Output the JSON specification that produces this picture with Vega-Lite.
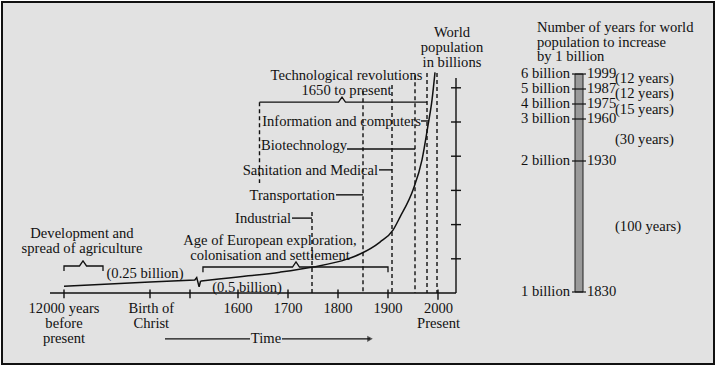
{
  "$schema": "https://vega.github.io/schema/vega-lite/v6.json",
  "width": 718,
  "height": 368,
  "autosize": {"type": "fit", "contains": "padding"},
  "padding": {"left": 2, "top": 2, "right": 4, "bottom": 4},
  "background": "white",
  "config": {
    "view": {"stroke": "#111111", "strokeWidth": 2, "fill": "#e2e2e2"},
    "text": {"font": "Liberation Serif", "fontSize": 14.6, "color": "#111111", "baseline": "middle", "lineBreak": "\n", "lineHeight": 14.8}
  },
  "datasets": {
    "curve": [
      {"i": 1, "year": -10000, "pop": 0.2},
      {"i": 2, "year": 0, "pop": 0.32},
      {"i": 3, "year": 1510, "pop": 0.38},
      {"i": 4, "year": 1514, "pop": 0.45},
      {"i": 5, "year": 1519, "pop": 0.18},
      {"i": 6, "year": 1522, "pop": 0.35}
    ],
    "curve2": [
      {"year": 1522, "pop": 0.35},
      {"year": 1560, "pop": 0.41},
      {"year": 1600, "pop": 0.47},
      {"year": 1684, "pop": 0.61},
      {"year": 1750, "pop": 0.76},
      {"year": 1818, "pop": 0.99},
      {"year": 1844, "pop": 1.14},
      {"year": 1884, "pop": 1.49},
      {"year": 1910, "pop": 1.84},
      {"year": 1924, "pop": 2.22},
      {"year": 1950, "pop": 3.01},
      {"year": 1968, "pop": 3.89},
      {"year": 1980, "pop": 4.9},
      {"year": 1988, "pop": 5.64},
      {"year": 1994, "pop": 6.45}
    ],
    "dashes": [
      {"year": 1643, "pop": 5.58, "pop2": 3.22},
      {"year": 1748, "pop": 2.37, "pop2": 0},
      {"year": 1850, "pop": 5.9, "pop2": 0},
      {"year": 1908, "pop": 6.08, "pop2": 0},
      {"year": 1954, "pop": 6.37, "pop2": 0},
      {"year": 1978, "pop": 6.43, "pop2": 0},
      {"year": 1998, "pop": 6.43, "pop2": 0}
    ],
    "segments": [
      {"year": -11630, "year2": 2036, "pop": 0, "pop2": 0},
      {"year": 2036, "year2": 2036, "pop": 0, "pop2": 6.29},
      {"year": 2026, "year2": 2046, "pop": 1, "pop2": 1},
      {"year": 2026, "year2": 2046, "pop": 2, "pop2": 2},
      {"year": 2026, "year2": 2046, "pop": 3, "pop2": 3},
      {"year": 2026, "year2": 2046, "pop": 4, "pop2": 4},
      {"year": 2026, "year2": 2046, "pop": 5, "pop2": 5},
      {"year": 2026, "year2": 2046, "pop": 6, "pop2": 6},
      {"year": -10000, "year2": -10000, "pop": -0.15, "pop2": 0.1},
      {"year": 0, "year2": 0, "pop": -0.15, "pop2": 0.1},
      {"year": 1500, "year2": 1500, "pop": -0.15, "pop2": 0.1},
      {"year": 1600, "year2": 1600, "pop": -0.15, "pop2": 0.1},
      {"year": 1700, "year2": 1700, "pop": -0.15, "pop2": 0.1},
      {"year": 1800, "year2": 1800, "pop": -0.15, "pop2": 0.1},
      {"year": 1900, "year2": 1900, "pop": -0.15, "pop2": 0.1},
      {"year": 2000, "year2": 2000, "pop": -0.2, "pop2": 0.1},
      {"year": 1708, "year2": 1748, "pop": 2.19, "pop2": 2.19},
      {"year": 1796, "year2": 1850, "pop": 2.87, "pop2": 2.87},
      {"year": 1882, "year2": 1908, "pop": 3.6, "pop2": 3.6},
      {"year": 1818, "year2": 1954, "pop": 4.21, "pop2": 4.21},
      {"year": 1966, "year2": 1982, "pop": 5.03, "pop2": 5.03},
      {"year": 562, "year2": 1624, "pop": -1.34, "pop2": -1.34},
      {"year": 1688, "year2": 1864, "pop": -1.34, "pop2": -1.34}
    ],
    "brackets": [
      {"id": "tech", "i": 1, "year": 1643, "pop": 5.58},
      {"id": "tech", "i": 2, "year": 1801, "pop": 5.58},
      {"id": "tech", "i": 3, "year": 1808, "pop": 5.73},
      {"id": "tech", "i": 4, "year": 1815, "pop": 5.58},
      {"id": "tech", "i": 5, "year": 1978, "pop": 5.58},
      {"id": "age", "i": 1, "year": 1527, "pop": 0.61},
      {"id": "age", "i": 2, "year": 1527, "pop": 0.76},
      {"id": "age", "i": 3, "year": 1709, "pop": 0.76},
      {"id": "age", "i": 4, "year": 1716, "pop": 0.91},
      {"id": "age", "i": 5, "year": 1723, "pop": 0.76},
      {"id": "age", "i": 6, "year": 1900, "pop": 0.76},
      {"id": "age", "i": 7, "year": 1900, "pop": 0.61},
      {"id": "agri", "i": 1, "year": -10000, "pop": 0.64},
      {"id": "agri", "i": 2, "year": -10000, "pop": 0.79},
      {"id": "agri", "i": 3, "year": -8200, "pop": 0.79},
      {"id": "agri", "i": 4, "year": -7790, "pop": 0.94},
      {"id": "agri", "i": 5, "year": -7380, "pop": 0.79},
      {"id": "agri", "i": 6, "year": -5465, "pop": 0.79},
      {"id": "agri", "i": 7, "year": -5465, "pop": 0.64}
    ],
    "labelsC": [
      {"year": -7907, "pop": 1.72, "text": "Development and\nspread of agriculture"},
      {"year": -580, "pop": 0.56, "text": "(0.25 billion)"},
      {"year": -10000, "pop": -0.47, "text": "12000 years\nbefore\npresent"},
      {"year": 50, "pop": -0.47, "text": "Birth of\nChrist"},
      {"year": 1600, "pop": -0.47, "text": "1600"},
      {"year": 1700, "pop": -0.47, "text": "1700"},
      {"year": 1800, "pop": -0.47, "text": "1800"},
      {"year": 1900, "pop": -0.47, "text": "1900"},
      {"year": 2001, "pop": -0.47, "text": "2000\nPresent"},
      {"year": 1656, "pop": -1.34, "text": "Time"},
      {"year": 1664, "pop": 1.52, "text": "Age of European exploration,\ncolonisation and settlement"},
      {"year": 1618, "pop": 0.16, "text": "(0.5 billion)"},
      {"year": 1817, "pop": 6.34, "text": "Technological revolutions\n1650 to present"},
      {"year": 2028, "pop": 7.6, "text": "World\npopulation\nin billions"}
    ],
    "labelsR": [
      {"year": 1706, "pop": 2.17, "text": "Industrial"},
      {"year": 1794, "pop": 2.85, "text": "Transportation"},
      {"year": 1880, "pop": 3.58, "text": "Sanitation and Medical"},
      {"year": 1818, "pop": 4.31, "text": "Biotechnology"},
      {"year": 1966, "pop": 5.01, "text": "Information and computers"}
    ],
    "steps": [
      {"year": 1999, "level": "6 billion", "yr": "1999"},
      {"year": 1987, "level": "5 billion", "yr": "1987"},
      {"year": 1975, "level": "4 billion", "yr": "1975"},
      {"year": 1960, "level": "3 billion", "yr": "1960"},
      {"year": 1930, "level": "2 billion", "yr": "1930"},
      {"year": 1830, "level": "1 billion", "yr": "1830"}
    ],
    "intervals": [
      {"year": 1995, "text": "(12 years)"},
      {"year": 1983, "text": "(12 years)"},
      {"year": 1969, "text": "(15 years)"},
      {"year": 1945, "text": "(30 years)"},
      {"year": 1880, "text": "(100 years)"}
    ],
    "title": [
      {"year": 2036, "text": "Number of years for world\npopulation to increase\nby 1 billion"}
    ],
    "bar": [{"year": 1830, "year2": 1999}]
  },
  "layer": [
    {
      "encoding": {
        "x": {"field": "year", "type": "quantitative", "axis": null,
              "scale": {"type": "linear", "domain": [-10000, 0, 1500, 1600, 2100], "range": [62, 148, 188, 236, 486], "zero": false, "nice": false}},
        "y": {"field": "pop", "type": "quantitative", "axis": null,
              "scale": {"type": "linear", "domain": [0, 1], "range": [291, 256.8], "zero": false, "nice": false}}
      },
      "layer": [
        {
          "data": {"name": "dashes"},
          "mark": {"type": "rule", "strokeWidth": 1.4, "strokeDash": [4, 3], "color": "#111111"},
          "encoding": {"y2": {"field": "pop2"}}
        },
        {
          "data": {"name": "segments"},
          "mark": {"type": "rule", "strokeWidth": 1.4, "color": "#111111"},
          "encoding": {"x2": {"field": "year2"}, "y2": {"field": "pop2"}}
        },
        {
          "data": {"name": "brackets"},
          "mark": {"type": "line", "strokeWidth": 1.3, "color": "#111111"},
          "encoding": {"detail": {"field": "id"}, "order": {"field": "i", "type": "quantitative"}}
        },
        {
          "data": {"name": "curve"},
          "mark": {"type": "line", "strokeWidth": 1.5, "color": "#111111"},
          "encoding": {"order": {"field": "i", "type": "quantitative"}}
        },
        {
          "data": {"name": "curve2"},
          "mark": {"type": "line", "strokeWidth": 1.5, "color": "#111111", "interpolate": "monotone"},
          "encoding": {}
        },
        {
          "data": {"name": "segments"},
          "transform": [{"filter": "datum.year == 1688"}],
          "mark": {"type": "point", "shape": "triangle-right", "filled": true, "color": "#111111", "size": 40},
          "encoding": {"x": {"field": "year2", "type": "quantitative"}}
        },
        {
          "data": {"name": "labelsC"},
          "mark": {"type": "text", "align": "center"},
          "encoding": {"text": {"field": "text"}}
        },
        {
          "data": {"name": "labelsR"},
          "mark": {"type": "text", "align": "right"},
          "encoding": {"text": {"field": "text"}}
        }
      ]
    },
    {
      "encoding": {
        "x": {"datum": 0, "type": "quantitative", "axis": null,
              "scale": {"domain": [-1, 1], "range": [477, 677], "zero": false, "nice": false}},
        "y": {"field": "year", "type": "quantitative", "axis": null,
              "scale": {"type": "linear", "domain": [1830, 1930, 1960, 1975, 1987, 1999], "range": [290, 159, 117, 102, 87, 72], "zero": false, "nice": false}}
      },
      "layer": [
        {
          "data": {"name": "bar"},
          "mark": {"type": "rect", "fill": "#9a9a9a", "stroke": "#222222", "strokeWidth": 1},
          "encoding": {"x": {"datum": -0.04, "type": "quantitative"}, "x2": {"datum": 0.04}, "y2": {"field": "year2"}}
        },
        {
          "data": {"name": "steps"},
          "mark": {"type": "rule", "strokeWidth": 1.2, "color": "#111111"},
          "encoding": {"x": {"datum": -0.07, "type": "quantitative"}, "x2": {"datum": 0.07}}
        },
        {
          "data": {"name": "steps"},
          "mark": {"type": "text", "align": "right", "dx": -9},
          "encoding": {"text": {"field": "level"}}
        },
        {
          "data": {"name": "steps"},
          "mark": {"type": "text", "align": "left", "dx": 8},
          "encoding": {"text": {"field": "yr"}}
        },
        {
          "data": {"name": "intervals"},
          "mark": {"type": "text", "align": "left", "dx": 36},
          "encoding": {"text": {"field": "text"}}
        },
        {
          "data": {"name": "title"},
          "mark": {"type": "text", "align": "left", "dx": -42},
          "encoding": {"text": {"field": "text"}}
        }
      ]
    }
  ],
  "resolve": {"scale": {"x": "independent", "y": "independent"}}
}
